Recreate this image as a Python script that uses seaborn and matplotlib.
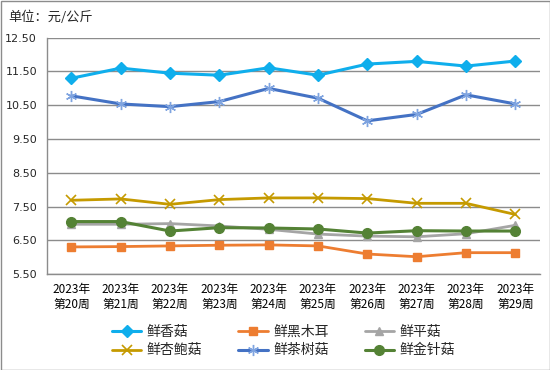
import matplotlib
matplotlib.use("Agg")
import matplotlib.pyplot as plt
import seaborn as sns
import pandas as pd
import numpy as np
from matplotlib.patches import Rectangle
from matplotlib.ticker import FixedLocator, NullFormatter

weeks = ["2023年\n第20周", "2023年\n第21周", "2023年\n第22周", "2023年\n第23周", "2023年\n第24周",
         "2023年\n第25周", "2023年\n第26周", "2023年\n第27周", "2023年\n第28周", "2023年\n第29周"]

xianggu = [11.30, 11.60, 11.45, 11.39, 11.61, 11.39, 11.72, 11.80, 11.66, 11.81]
heimuer = [6.31, 6.32, 6.34, 6.36, 6.37, 6.34, 6.10, 6.02, 6.14, 6.14]
pinggu = [6.98, 6.98, 7.00, 6.93, 6.83, 6.69, 6.63, 6.61, 6.70, 6.95]
xingbaogu = [7.69, 7.73, 7.57, 7.71, 7.76, 7.76, 7.74, 7.60, 7.60, 7.27]
chashugu = [10.78, 10.54, 10.46, 10.61, 11.00, 10.71, 10.04, 10.23, 10.81, 10.54]
jinzhengu = [7.06, 7.06, 6.78, 6.88, 6.87, 6.84, 6.72, 6.79, 6.78, 6.78]

series_names = ["鲜香菇", "鲜黑木耳", "鲜平菇", "鲜杏鲍菇", "鲜茶树菇", "鲜金针菇"]
series_vals = [xianggu, heimuer, pinggu, xingbaogu, chashugu, jinzhengu]
y_ticks = [5.50, 6.50, 7.50, 8.50, 9.50, 10.50, 11.50, 12.50]

styles = {
    "鲜香菇": dict(color="#0FAEEC", marker="D", ms=6.5, lw=2.2, mew=1),
    "鲜黑木耳": dict(color="#ED7D31", marker="s", ms=5.5, lw=2.0, mew=1),
    "鲜平菇": dict(color="#A5A5A5", marker="^", ms=6, lw=2.0, mew=1),
    "鲜杏鲍菇": dict(color="#C59A00", marker="x", ms=7, lw=2.0, mew=1.2),
    "鲜茶树菇": dict(color="#4472C4", marker=(6, 2, 0), ms=8, lw=2.2, mew=1.0),
    "鲜金针菇": dict(color="#548235", marker="o", ms=7, lw=2.2, mew=1),
}

sns.set_style("white")
plt.rcParams["font.family"] = ["Noto Sans CJK SC", "DejaVu Sans"]

fig = plt.figure(figsize=(5.5, 3.7), dpi=100)
ax = fig.add_axes([46.7 / 550, 1 - 274.3 / 370, (540 - 46.7) / 550, (274.3 - 37.7) / 370])

x_idx = np.arange(len(weeks))
rows = []
for name, vals in zip(series_names, series_vals):
    for i, v in enumerate(vals):
        rows.append({"series": name, "x": i, "y": v})
df = pd.DataFrame(rows)

handles = {}
for name in series_names:
    st = styles[name]
    sub = df[df["series"] == name]
    mec = "#7FA4E0" if name == "鲜茶树菇" else st["color"]
    sns.lineplot(data=sub, x="x", y="y", ax=ax, color=st["color"], linewidth=st["lw"],
                 marker=st["marker"], markersize=st["ms"], markeredgecolor=mec,
                 markerfacecolor=st["color"], markeredgewidth=st["mew"], label=name,
                 legend=False, zorder=3)
    handles[name] = ax.lines[-1]

ax.set_xlim(-0.5, len(weeks) - 0.5)
ax.set_ylim(5.5, 12.5)
ax.set_yticks(y_ticks)
ax.set_yticklabels([f"{t:.2f}" for t in y_ticks], fontsize=8, family=["DejaVu Sans"])
ax.set_xticks(x_idx)
ax.set_xticklabels(weeks, fontsize=8.5, linespacing=1.25)
ax.xaxis.set_minor_locator(FixedLocator(np.arange(-0.5, len(weeks), 1.0)))
ax.xaxis.set_minor_formatter(NullFormatter())
ax.tick_params(axis="x", which="major", length=0, pad=6, colors="black")
ax.tick_params(axis="x", which="minor", length=4, width=1, color="#8C8C8C", direction="out")
ax.tick_params(axis="y", which="major", length=3, width=1, color="#8C8C8C", direction="out", pad=4)
ax.set_xlabel("")
ax.set_ylabel("")

ax.grid(axis="y", color="#8C8C8C", linewidth=1)
ax.grid(axis="x", visible=False)
ax.set_axisbelow(True)
for s in ["top", "right"]:
    ax.spines[s].set_visible(False)
for s in ["left", "bottom"]:
    ax.spines[s].set_color("#8C8C8C")
    ax.spines[s].set_linewidth(1)

fig.text(8 / 550, 1 - 17 / 370, "单位：元/公斤", fontsize=9.5, va="center", ha="left")

order = ["鲜香菇", "鲜杏鲍菇", "鲜黑木耳", "鲜茶树菇", "鲜平菇", "鲜金针菇"]
fig.legend([handles[n] for n in order], order, loc="center", ncol=3,
           bbox_to_anchor=(283.5 / 550, 1 - 341 / 370), frameon=False, fontsize=10,
           handlelength=2.1, handletextpad=0.4, columnspacing=2.6, labelspacing=0.35)

fig.patches.append(Rectangle((0.5 / 550, 0.5 / 370), 549 / 550, 369 / 370, transform=fig.transFigure,
                             fill=False, edgecolor="#8C8C8C", linewidth=1))

fig.savefig("out.png", dpi=100)
